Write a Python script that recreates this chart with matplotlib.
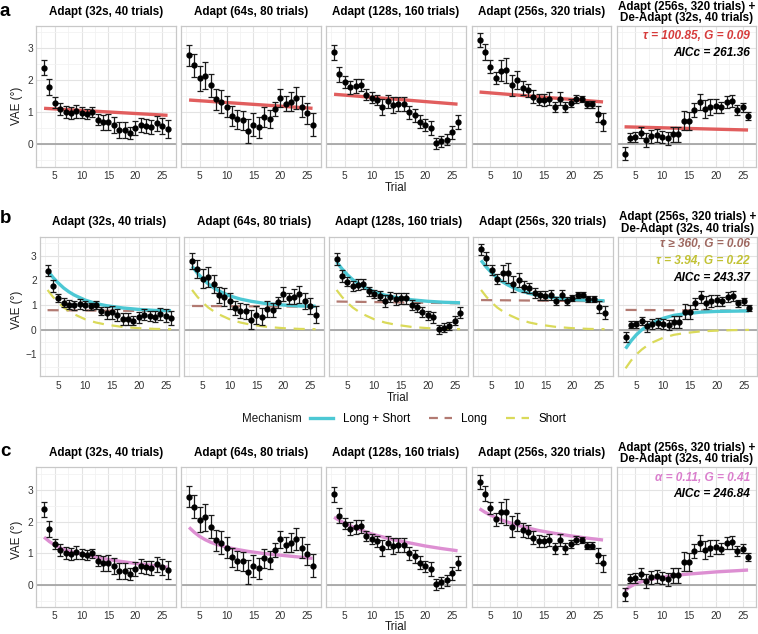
import matplotlib
matplotlib.use("Agg")
import matplotlib.pyplot as plt
from matplotlib.lines import Line2D
from matplotlib.ticker import MultipleLocator
from matplotlib import font_manager

plt.rcParams['font.family'] = ['Liberation Sans', 'DejaVu Sans']

# ---------------- data ----------------
trials = list(range(3, 27))
panel_titles = ["Adapt (32s, 40 trials)", "Adapt (64s, 80 trials)",
                "Adapt (128s, 160 trials)", "Adapt (256s, 320 trials)",
                "Adapt (256s, 320 trials) +\nDe-Adapt (32s, 40 trials)"]

vae_32 = [2.39, 1.78, 1.29, 1.10, 1.01, 0.98, 1.03, 0.98, 0.94, 1.00, 0.76, 0.68,
          0.70, 0.59, 0.44, 0.44, 0.36, 0.50, 0.61, 0.56, 0.53, 0.65, 0.57, 0.47]
vae_64 = [2.79, 2.47, 2.06, 2.14, 1.84, 1.41, 1.33, 1.17, 0.88, 0.77, 0.74, 0.41,
          0.60, 0.53, 0.84, 0.79, 1.11, 1.44, 1.27, 1.33, 1.44, 1.17, 0.97, 0.61]
vae_128 = [2.87, 2.19, 1.94, 1.78, 1.83, 1.85, 1.55, 1.45, 1.38, 1.16, 1.34, 1.23,
           1.27, 1.27, 1.00, 0.90, 0.70, 0.59, 0.50, 0.02, 0.08, 0.14, 0.37, 0.69]
vae_256 = [3.26, 2.89, 2.43, 2.07, 2.30, 2.31, 1.84, 2.00, 1.75, 1.68, 1.49, 1.39,
           1.38, 1.42, 1.16, 1.42, 1.16, 1.29, 1.42, 1.42, 1.24, 1.24, 0.93, 0.69]
vae_deadapt = [-0.30, 0.20, 0.22, 0.36, 0.13, 0.24, 0.27, 0.22, 0.18, 0.30, 0.30, 0.73,
               0.72, 1.07, 1.32, 1.10, 1.17, 1.19, 1.15, 1.32, 1.35, 1.07, 1.15, 0.88]

sem_32 = [0.23, 0.25, 0.17, 0.20, 0.19, 0.19, 0.20, 0.17, 0.16, 0.15, 0.17, 0.23,
          0.25, 0.25, 0.24, 0.24, 0.19, 0.23, 0.22, 0.21, 0.23, 0.24, 0.25, 0.28]
sem_64 = [0.33, 0.36, 0.39, 0.42, 0.37, 0.33, 0.36, 0.33, 0.30, 0.30, 0.30, 0.37,
          0.36, 0.33, 0.31, 0.28, 0.22, 0.28, 0.23, 0.30, 0.35, 0.33, 0.33, 0.36]
sem_128 = [0.24, 0.24, 0.18, 0.20, 0.22, 0.20, 0.17, 0.17, 0.17, 0.25, 0.20, 0.25,
           0.22, 0.22, 0.20, 0.20, 0.20, 0.18, 0.22, 0.18, 0.17, 0.17, 0.20, 0.23]
sem_256 = [0.23, 0.25, 0.20, 0.20, 0.33, 0.40, 0.33, 0.28, 0.22, 0.20, 0.20, 0.18,
           0.18, 0.20, 0.17, 0.20, 0.17, 0.12, 0.12, 0.10, 0.12, 0.12, 0.25, 0.27]
sem_deadapt = [0.20, 0.14, 0.15, 0.17, 0.22, 0.20, 0.20, 0.20, 0.20, 0.25, 0.25, 0.30,
               0.28, 0.22, 0.25, 0.28, 0.25, 0.22, 0.18, 0.20, 0.20, 0.15, 0.15, 0.12]

vae_all = [vae_32, vae_64, vae_128, vae_256, vae_deadapt]
sem_all = [sem_32, sem_64, sem_128, sem_256, sem_deadapt]

# (a) single-mechanism fit, endpoints at first/last trial
fit_trials = [3, 26]
single_fit = [[1.12, 0.90], [1.38, 1.12], [1.56, 1.25], [1.63, 1.32], [0.54, 0.44]]
single_text = ["τ = 100.85, G = 0.09", "AICc = 261.36"]

# (b) two-mechanism fit, sampled at these trials
curve_trials = [3, 4, 5, 6, 7, 8, 10, 12, 14, 17, 20, 23, 26]
long_fit = [[0.79, 0.75], [0.96, 0.93], [1.14, 1.07], [1.20, 1.15], [0.80, 0.77]]
short_adapt = [1.61, 1.33, 1.10, 0.90, 0.75, 0.62, 0.42, 0.29, 0.20, 0.11, 0.06, 0.03, 0.02]
short_deadapt = [-1.57, -1.26, -1.01, -0.81, -0.65, -0.52, -0.33, -0.21, -0.14, -0.07,
                 -0.04, -0.02, -0.01]
combined_32 = [2.40, 2.12, 1.89, 1.69, 1.53, 1.40, 1.20, 1.06, 0.97, 0.88, 0.82, 0.78, 0.77]
combined_64 = [2.57, 2.29, 2.06, 1.86, 1.70, 1.57, 1.37, 1.24, 1.15, 1.05, 1.00, 0.96, 0.95]
combined_128 = [2.75, 2.47, 2.23, 2.03, 1.88, 1.74, 1.54, 1.40, 1.31, 1.21, 1.15, 1.11, 1.09]
combined_256 = [2.81, 2.53, 2.30, 2.09, 1.94, 1.81, 1.60, 1.47, 1.38, 1.28, 1.22, 1.19, 1.17]
combined_deadapt = [-0.77, -0.46, -0.21, -0.01, 0.14, 0.27, 0.46, 0.58, 0.64, 0.71, 0.74,
                    0.75, 0.76]
short_all = [short_adapt, short_adapt, short_adapt, short_adapt, short_deadapt]
combined_all = [combined_32, combined_64, combined_128, combined_256, combined_deadapt]
two_text = ["τ ≥ 360, G = 0.06", "τ = 3.94, G = 0.22", "AICc = 243.37"]

# (c) power-law fit
power_32 = [1.51, 1.37, 1.26, 1.17, 1.10, 1.05, 0.98, 0.91, 0.83, 0.75, 0.68, 0.62, 0.56]
power_64 = [1.82, 1.66, 1.53, 1.43, 1.35, 1.29, 1.19, 1.12, 1.06, 0.99, 0.94, 0.89, 0.84]
power_128 = [2.14, 2.04, 1.95, 1.87, 1.80, 1.74, 1.61, 1.52, 1.43, 1.33, 1.23, 1.15, 1.08]
power_256 = [2.41, 2.30, 2.21, 2.13, 2.06, 2.00, 1.89, 1.80, 1.72, 1.63, 1.55, 1.48, 1.42]
power_deadapt = [-0.18, -0.06, 0.03, 0.09, 0.14, 0.18, 0.24, 0.29, 0.33, 0.37, 0.41, 0.44, 0.47]
power_all = [power_32, power_64, power_128, power_256, power_deadapt]
power_text = ["α = 0.11, G = 0.41", "AICc = 246.84"]

legend_labels = ["Long + Short", "Long", "Short"]

# ---------------- style ----------------
RED = "#E05555"
RED_TXT = "#D63B3B"
TEAL = "#4CC8D4"
BROWN = "#B27A72"
BROWN_TXT = "#9E6860"
YELLOW = "#DADA5A"
YELLOW_TXT = "#C2C234"
PINK = "#DD8FD2"
PINK_TXT = "#DA7FCD"

FS = 8.4        # titles / axis labels
TICK_FS = 7.3

# narrow bold-italic font for the fit annotations (Calibri-like), if available
try:
    font_manager.findfont(font_manager.FontProperties(family="Liberation Sans Narrow"),
                          fallback_to_default=False)
    ANN_FAMILY = ["Liberation Sans Narrow", "DejaVu Sans"]
    ANN_FS = 10.0
except Exception:
    ANN_FAMILY = ["Liberation Sans", "DejaVu Sans"]
    ANN_FS = 8.6

W, H = 758, 634
fig = plt.figure(figsize=(W / 100, H / 100), dpi=100)


def rect(l, t, w, h):
    return [l / W, 1 - (t + h) / H, w / W, h / H]


row_tops = [26, 236.7, 467.3]
row_heights = [140.7, 139.3, 139.4]
row_lefts = [[36, 181, 326, 471.5, 616.5],
             [39.5, 184, 328.5, 473, 617.5],
             [36, 181, 326, 471.5, 616.5]]
panel_w = 139.6
ylims = [(-0.71, 3.70), (-1.88, 3.77), (-0.69, 3.72)]
title_centers = [12, 222.5, 453]
letter_pos = [(0, 11, "a"), (0, 218, "b"), (0, 451, "c")]
trial_label_y = [188, 398, 627]
vae_label_y = [106, 310, 540]
vae_label_x = 16.7
text_rows = [
    [(single_text[0], RED_TXT, 36), (single_text[1], "black", 53)],
    [(two_text[0], BROWN_TXT, 244.3), (two_text[1], YELLOW_TXT, 261), (two_text[2], "black", 277.7)],
    [(power_text[0], PINK_TXT, 477.7), (power_text[1], "black", 494)],
]

for r in range(3):
    for p in range(5):
        left = row_lefts[r][p]
        ax = fig.add_axes(rect(left, row_tops[r], panel_w, row_heights[r]))
        ax.set_xlim(1.5, 27.5)
        ax.set_ylim(*ylims[r])
        ax.xaxis.set_major_locator(MultipleLocator(5))
        ax.xaxis.set_minor_locator(MultipleLocator(2.5))
        ax.yaxis.set_major_locator(MultipleLocator(1))
        ax.yaxis.set_minor_locator(MultipleLocator(0.5))
        ax.grid(which="major", color="#E3E3E3", lw=0.8)
        ax.grid(which="minor", color="#F2F2F2", lw=0.6)
        ax.set_axisbelow(True)
        for s in ax.spines.values():
            s.set_color("#C8C8C8")
            s.set_linewidth(0.9)
        ax.tick_params(which="both", length=0, labelsize=TICK_FS, colors="#333333")
        ax.tick_params(axis="x", pad=3.3)
        ax.tick_params(axis="y", pad=2)
        if p > 0:
            ax.tick_params(axis="y", labelleft=False)
        ax.axhline(0, color="#A6A6A6", lw=1.3, zorder=1)

        # model lines (under data)
        if r == 0:
            ax.plot(fit_trials, single_fit[p], color=RED, lw=2.4, alpha=0.95, zorder=2,
                    solid_capstyle="butt")
        elif r == 1:
            ax.plot(fit_trials, long_fit[p], color=BROWN, lw=1.6, ls=(0, (5, 3.5)), zorder=2)
            ax.plot(curve_trials, short_all[p], color=YELLOW, lw=1.6, ls=(0, (5, 3.5)), zorder=2)
            ax.plot(curve_trials, combined_all[p], color=TEAL, lw=2.4, zorder=2,
                    solid_capstyle="butt")
        else:
            ax.plot(curve_trials, power_all[p], color=PINK, lw=2.4, zorder=2,
                    solid_capstyle="butt")

        ax.errorbar(trials, vae_all[p], yerr=sem_all[p], fmt="o", color="black",
                    ecolor="#1a1a1a", elinewidth=0.9, capsize=2.5, capthick=0.9,
                    markersize=3.5, zorder=3)

        two_line = "\n" in panel_titles[p]
        tc = title_centers[r] + (0.5 if two_line else 0)
        ax.set_title(panel_titles[p], fontsize=FS, fontweight="bold", pad=0,
                     y=(row_tops[r] - tc) / row_heights[r] + 1,
                     va="center", linespacing=0.95)

        if p == 0:
            ax.set_ylabel("VAE (°)", fontsize=FS, color="#1a1a1a", va="center")
            ax.yaxis.set_label_coords(-(left - vae_label_x) / panel_w,
                                      1 - (vae_label_y[r] - row_tops[r]) / row_heights[r])
        if p == 2:
            ax.set_xlabel("Trial", fontsize=FS, color="#1a1a1a", va="center")
            ax.xaxis.set_label_coords(0.5, -(trial_label_y[r] - row_tops[r] - row_heights[r]) / row_heights[r])
        if p == 4:
            for txt, col, yy in text_rows[r]:
                fig.text(750 / W, 1 - yy / H, txt, color=col, fontsize=ANN_FS,
                         family=ANN_FAMILY, fontweight="bold", fontstyle="italic",
                         ha="right", va="center")

    lx, ly, lt = letter_pos[r]
    fig.text(lx / W, 1 - ly / H, lt, fontsize=13.5, fontweight="bold", ha="left", va="center")

# legend for panel b
fig.text(242 / W, 1 - 418.7 / H, "Mechanism", fontsize=FS, color="#1a1a1a",
         ha="left", va="center")
handles = [Line2D([], [], color=TEAL, lw=2.4),
           Line2D([], [], color=BROWN, lw=1.6, ls=(0, (4, 3))),
           Line2D([], [], color=YELLOW, lw=1.6, ls=(0, (4, 3)))]
fig.legend(handles, legend_labels, loc="center left", bbox_to_anchor=(310 / W, 1 - 418.7 / H),
           ncol=3, frameon=False, fontsize=FS, handlelength=2.0, handletextpad=0.8,
           columnspacing=1.6, borderpad=0, borderaxespad=0)

fig.savefig("out.png", dpi=100)
